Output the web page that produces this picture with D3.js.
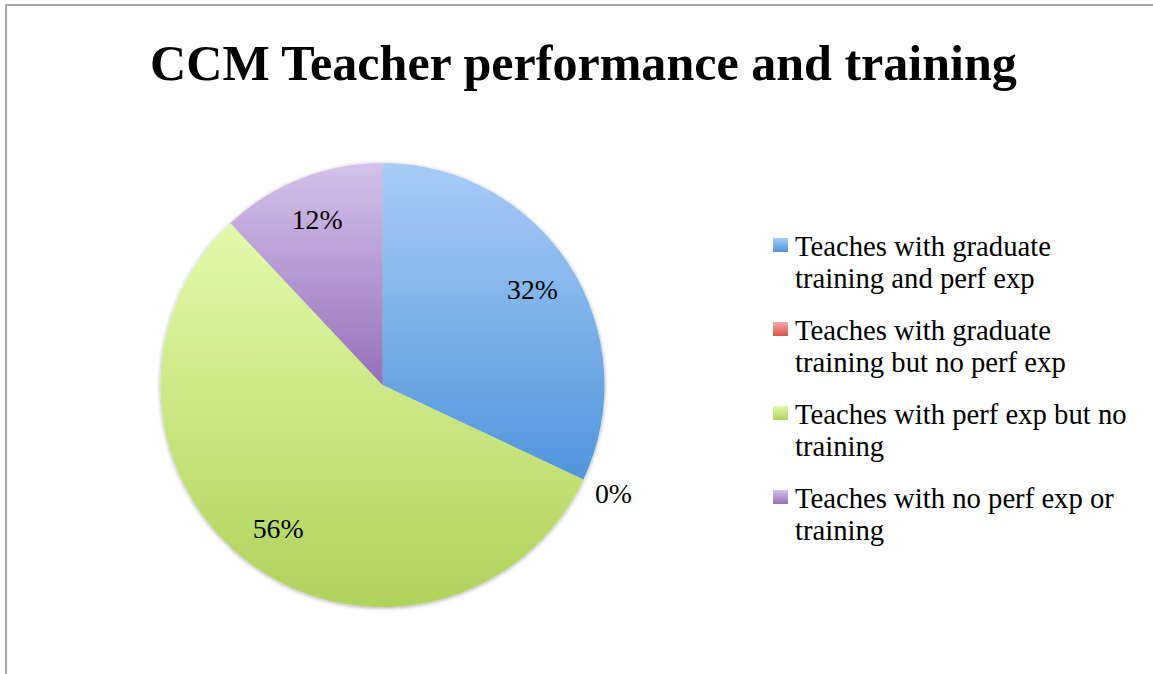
<!DOCTYPE html>
<html><head><meta charset="utf-8">
<script src="https://cdn.jsdelivr.net/npm/d3@7"></script>
<style>body{margin:0;background:#fff}svg{display:block}</style>
</head><body><svg id="c" width="1153" height="674"></svg>
<script>
const title = "CCM Teacher performance and training";
const categories = [
  ["Teaches with graduate", "training and perf exp"],
  ["Teaches with graduate", "training but no perf exp"],
  ["Teaches with perf exp but no", "training"],
  ["Teaches with no perf exp or", "training"]
];
const values = [32, 0, 56, 12];
const valueLabels = ["32%", "0%", "56%", "12%"];
const colorsTop = ["#a8ccf8", "#f8a8a6", "#e2fbab", "#d4c2ea"];
const colorsBottom = ["#5095da", "#d9534f", "#b0d25a", "#9570ba"];

const svg = d3.select("#c");
const FONT = "'Liberation Serif', serif";

function fit(sel, size, width) {
  sel.attr("font-size", size);
  const w = sel.node().getComputedTextLength();
  return size * width / w;
}

// frame
svg.append("rect").attr("x", 6).attr("y", 5).attr("width", 1200).attr("height", 700)
  .attr("fill", "#fff").attr("stroke", "#a6a6a6").attr("stroke-width", 2);

const defs = svg.append("defs");
values.forEach((v, i) => {
  const g = defs.append("linearGradient").attr("id", "g" + i)
    .attr("x1", 0).attr("y1", 0).attr("x2", 0).attr("y2", 1);
  g.append("stop").attr("offset", "0%").attr("stop-color", colorsTop[i]);
  g.append("stop").attr("offset", "100%").attr("stop-color", colorsBottom[i]);
});
const f = defs.append("filter").attr("id", "sh").attr("x", "-10%").attr("y", "-10%").attr("width", "120%").attr("height", "120%");
f.append("feGaussianBlur").attr("in", "SourceAlpha").attr("stdDeviation", 2).attr("result", "b");
f.append("feOffset").attr("in", "b").attr("dx", 0).attr("dy", 1).attr("result", "o");
f.append("feComponentTransfer").attr("in", "o").attr("result", "o2")
  .append("feFuncA").attr("type", "linear").attr("slope", 0.35);
const m = f.append("feMerge");
m.append("feMergeNode").attr("in", "o2");
m.append("feMergeNode").attr("in", "SourceGraphic");

// title
const t = svg.append("text").attr("x", 583.5).attr("y", 80).attr("text-anchor", "middle")
  .attr("font-family", FONT).attr("font-weight", "bold").attr("fill", "#000").text(title);
t.attr("font-size", fit(t, 44, 867));

// pie
const cx = 382.5, cy = 385, r = 222;
const pie = d3.pie().sort(null).value(d => d)(values);
const arc = d3.arc().innerRadius(0).outerRadius(r);
const g = svg.append("g").attr("transform", `translate(${cx},${cy})`);
const sl = g.append("g").attr("filter", "url(#sh)");
sl.selectAll("path").data(pie).join("path")
  .attr("d", arc).attr("fill", (d, i) => `url(#g${i})`);

// measure label size: "32%" ~51px wide
const probe = svg.append("text").attr("font-family", FONT).text(valueLabels[0]);
const labelSize = fit(probe, 24, 51);
probe.remove();

const inArc = d3.arc().innerRadius(r * 0.8).outerRadius(r * 0.8);
const outArc = d3.arc().innerRadius(r * 1.15).outerRadius(r * 1.15);
g.selectAll("text.lbl").data(pie).join("text").attr("class", "lbl")
  .attr("transform", d => `translate(${(d.value === 0 ? outArc : inArc).centroid(d)})`)
  .attr("text-anchor", "middle").attr("dominant-baseline", "central")
  .attr("font-family", FONT).attr("font-size", labelSize).attr("fill", "#000")
  .text((d, i) => valueLabels[i]);

// legend
const probe2 = svg.append("text").attr("font-family", FONT).text(categories[0][0]);
const legSize = fit(probe2, 24, 256);
probe2.remove();
const lg = svg.append("g");
categories.forEach((c, i) => {
  const y0 = 256 + i * 84;
  lg.append("rect").attr("x", 773).attr("y", y0 - 18).attr("width", 15).attr("height", 14)
    .attr("fill", `url(#g${i})`);
  c.forEach((line, j) => {
    lg.append("text").attr("x", 795).attr("y", y0 + j * 32)
      .attr("font-family", FONT).attr("font-size", legSize).attr("fill", "#000").text(line);
  });
});
</script></body></html>
